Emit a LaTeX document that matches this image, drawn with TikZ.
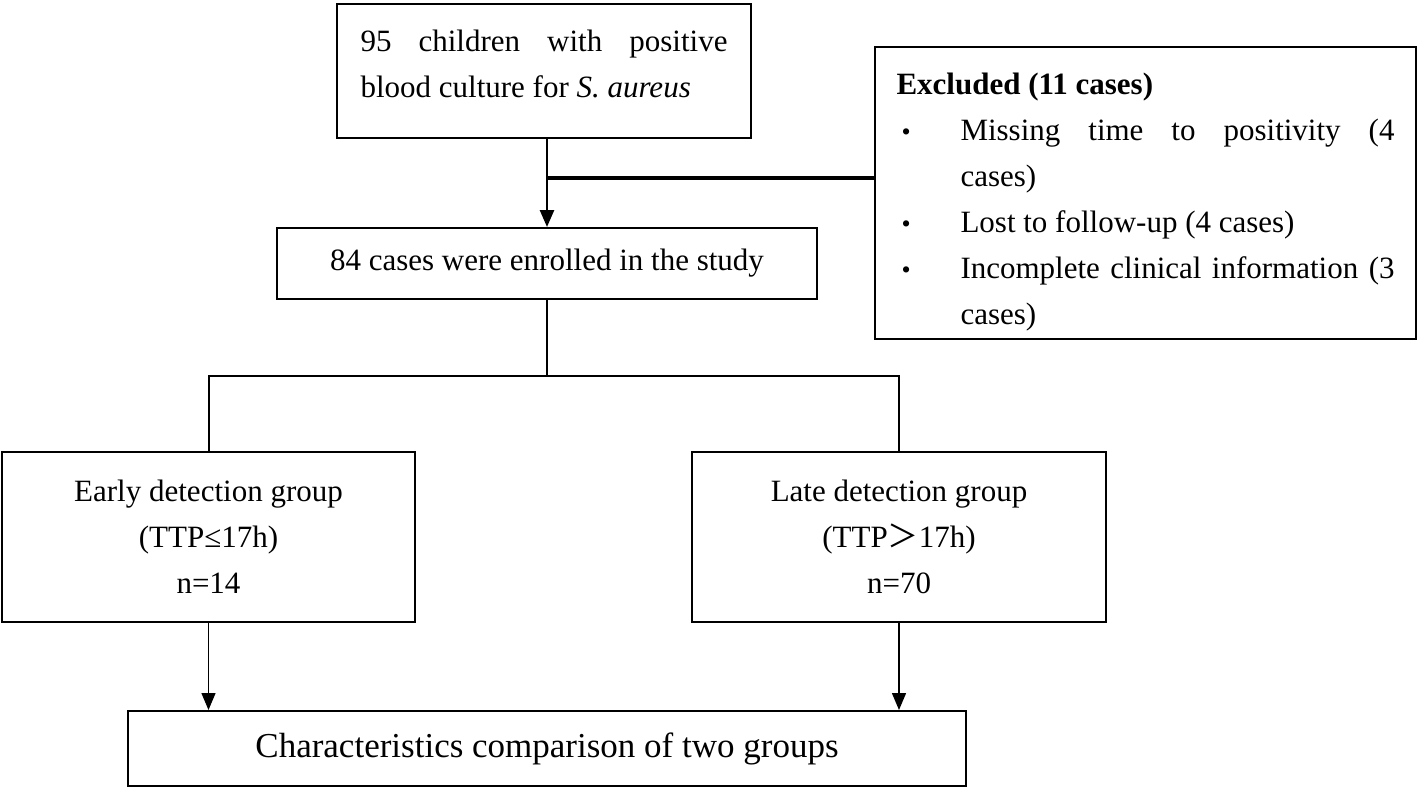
\documentclass[tikz,border=0pt]{standalone}
\usepackage{fontspec}
\setmainfont{Liberation Serif}
\newfontfamily\cjk{Noto Sans CJK SC}
\usetikzlibrary{arrows.meta}
\newcommand\bitem[1]{\par\hangindent=32pt\hangafter=1\noindent\makebox[32pt][l]{\hspace{2.5pt}\fontsize{13pt}{13pt}\selectfont\textbullet}#1}
\begin{document}
\begin{tikzpicture}[x=0.5pt, y=-0.5pt,
            flow/.style={rectangle, draw, line width=1pt, inner sep=0pt, align=center, font=\fontsize{15.5pt}{23pt}\selectfont},
            para/.style={rectangle, draw, line width=1pt, inner ysep=0pt, align=justify, font=\fontsize{15.5pt}{23pt}\selectfont},
            conn/.style={line width=1pt},
            arr/.style={-{Triangle[length=8.5pt, width=7pt]}},
        ]
            \useasboundingbox (0,0) rectangle (1418,789);

            % Screening and exclusion
            \node[para, anchor=north west, inner xsep=11.75pt, text width=183.5pt, text height=23.5pt, text depth=43.5pt] (blood) at (336,3) {95 children with positive\linebreak blood culture for \textit{S. aureus}\par};
            \node[para, anchor=north west, inner xsep=10.75pt, text width=249pt, text height=23.5pt, text depth=122.5pt] (excl) at (874,46) {\textbf{Excluded (11 cases)}\bitem{Missing time to positivity (4\linebreak cases)}\bitem{Lost to follow-up (4 cases)}\bitem{Incomplete clinical information (3\linebreak cases)}\par};
            \node[flow, minimum width=270pt, minimum height=35.5pt] (enrol) at (547,263.5) {84 cases were enrolled in the study};

            % Groups by time to positivity
            \node[flow, minimum width=206.5pt, minimum height=85pt] (early) at (208.5,537) {Early detection group\\(TTP≤17h)\\n=14};
            \node[flow, minimum width=207pt, minimum height=85pt] (late) at (899,537) {Late detection group\\(TTP{\cjk ＞}17h)\\n=70};
            \node[flow, minimum width=419pt, minimum height=37.5pt, font=\fontsize{17.5pt}{21pt}\selectfont] (summ) at (547,748.5) {Characteristics comparison of two groups};

            % Connectors
            \coordinate (excljoin) at (547,178);
            \coordinate (split) at (547,376);
            \draw[conn, line width=1.3pt, arr] (enrol.north |- blood.south) -- (enrol.north);
            \draw[line width=2pt] (excljoin) -- (excljoin -| excl.west);
            \draw[conn] (enrol.south) -- (split);
            \draw[conn] (split) -| (early.north);
            \draw[conn, line width=1.4pt] (split) -| (late.north);
            \draw[line width=0.7pt, arr] (early.south) -- (early.south |- summ.north);
            \draw[line width=0.7pt, arr] (late.south) -- (late.south |- summ.north);
        \end{tikzpicture}
\end{document}
